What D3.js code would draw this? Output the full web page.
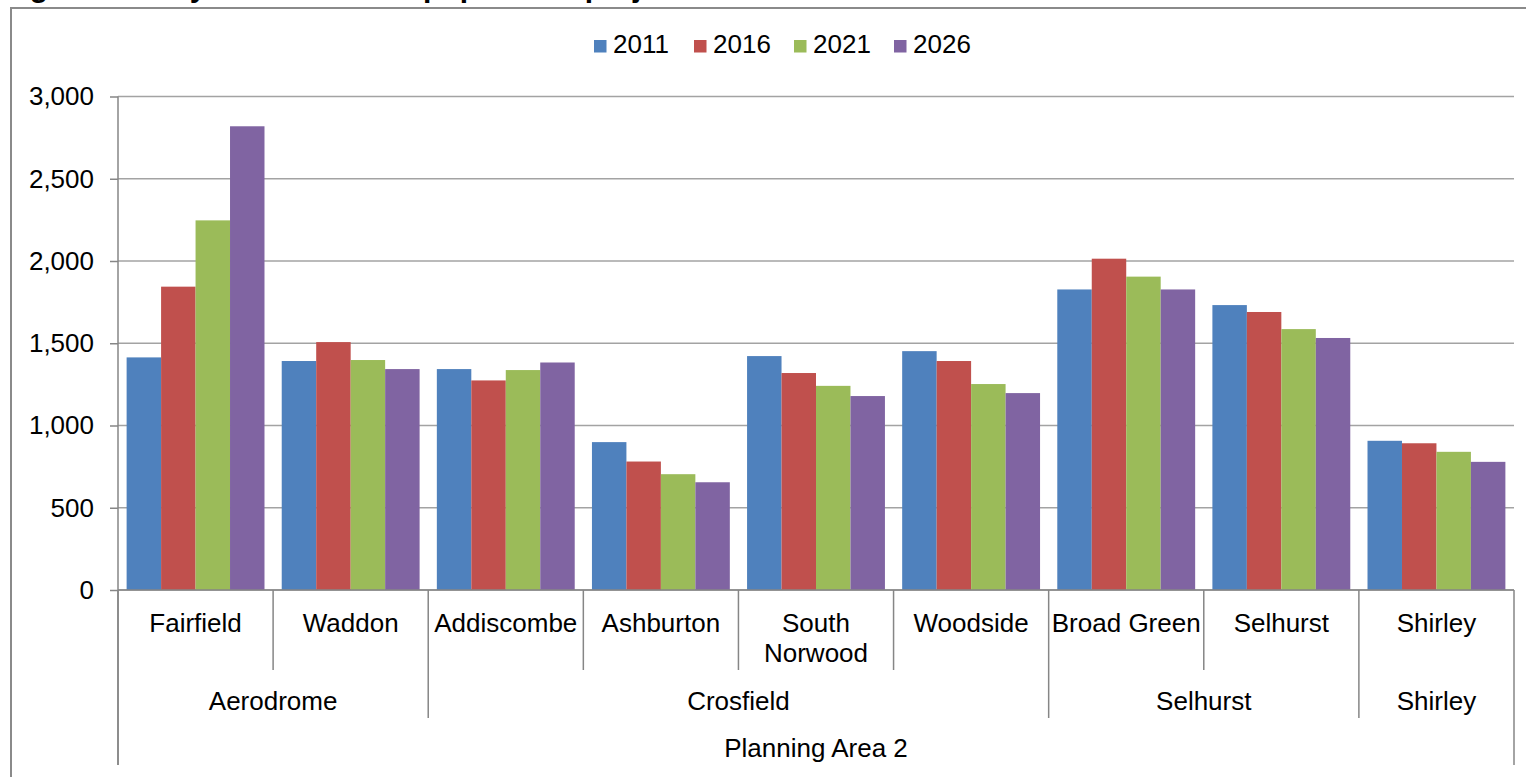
<!DOCTYPE html>
<html>
<head>
<meta charset="utf-8">
<script src="https://cdn.jsdelivr.net/npm/d3@7"></script>
<style>
  html, body { margin: 0; padding: 0; background: #fff; overflow: hidden; }
  svg { display: block; }
  text { font-family: "Liberation Sans", Arial, sans-serif; fill: #000; }
</style>
</head>
<body>
<svg id="chart" width="1526" height="777"></svg>
<script>
// ---- Data ----
const wards = ["Fairfield", "Waddon", "Addiscombe", "Ashburton", "South Norwood", "Woodside", "Broad Green", "Selhurst", "Shirley"];
const wardArea = ["Aerodrome", "Aerodrome", "Crosfield", "Crosfield", "Crosfield", "Crosfield", "Selhurst", "Selhurst", "Shirley"];
const topLevel = "Planning Area 2";
const years = ["2011", "2016", "2021", "2026"];
const v2011 = [1414, 1392, 1343, 899, 1422, 1452, 1827, 1732, 907];
const v2016 = [1844, 1507, 1274, 781, 1319, 1392, 2014, 1690, 892];
const v2021 = [2247, 1398, 1337, 704, 1241, 1252, 1905, 1586, 840];
const v2026 = [2819, 1343, 1383, 655, 1179, 1197, 1827, 1532, 779];
const yTicks = [0, 500, 1000, 1500, 2000, 2500, 3000];
const colors = ["#4F81BD", "#C0504D", "#9BBB59", "#8064A2"];
const titleText = "Figure 7: Croydon ward level population projections";

const seriesValues = [v2011, v2016, v2021, v2026];

// ---- Layout ----
const svg = d3.select("#chart");
const plotL = 118, plotR = 1514, plotT = 96.5, plotB = 590;
const fontSize = 26;

// frame
svg.append("rect").attr("x", 11).attr("y", 8).attr("width", 1540).attr("height", 800)
  .attr("fill", "none").attr("stroke", "#8a8a8a").attr("stroke-width", 2);

// cut-off title
svg.append("text").attr("x", 3).attr("y", -3)
  .attr("font-size", 30).attr("font-weight", "bold").text(titleText);

const x = d3.scaleBand().domain(wards).range([plotL, plotR]).paddingInner(0).paddingOuter(0);
const xs = d3.scaleBand().domain(years).range([0, x.bandwidth()]).paddingInner(0).paddingOuter(0.25);
const y = d3.scaleLinear().domain([0, 3000]).range([plotB, plotT]);

// gridlines
svg.append("g").selectAll("line").data(yTicks).join("line")
  .attr("x1", plotL).attr("x2", plotR)
  .attr("y1", d => y(d)).attr("y2", d => y(d))
  .attr("stroke", "#a3a3a3").attr("stroke-width", 1.5);

// y axis
const yAxis = d3.axisLeft(y).tickValues(yTicks).tickSize(8).tickPadding(16)
  .tickFormat(d3.format(","));
const gy = svg.append("g").attr("transform", `translate(${plotL},0)`).call(yAxis);
gy.select(".domain").remove();
gy.selectAll(".tick line").attr("stroke", "#868686").attr("stroke-width", 1.5);
gy.selectAll(".tick text").attr("font-size", fontSize).attr("font-family", "Liberation Sans, Arial, sans-serif").attr("fill", "#000");

// bars
const barData = [];
wards.forEach((w, i) => years.forEach((yr, j) => barData.push({ ward: w, year: yr, value: seriesValues[j][i], j })));
svg.append("g").selectAll("rect").data(barData).join("rect")
  .attr("x", d => x(d.ward) + xs(d.year))
  .attr("width", xs.bandwidth())
  .attr("y", d => y(d.value))
  .attr("height", d => y(0) - y(d.value))
  .attr("fill", d => colors[d.j]);

// axis lines
svg.append("line").attr("x1", plotL).attr("x2", plotL).attr("y1", plotT).attr("y2", 765)
  .attr("stroke", "#868686").attr("stroke-width", 1.5);
svg.append("line").attr("x1", plotL).attr("x2", plotR).attr("y1", plotB).attr("y2", plotB)
  .attr("stroke", "#868686").attr("stroke-width", 1.5);

// category separators
const boundaries = d3.range(wards.length + 1);
const sepY = i => {
  if (i === 0 || i === wards.length) return 765;
  if (wardArea[i] !== wardArea[i - 1]) return 718;
  return 670;
};
const bx = i => i === wards.length ? plotR : x(wards[i]);
svg.append("g").selectAll("line").data(boundaries).join("line")
  .attr("x1", bx).attr("x2", bx).attr("y1", plotB).attr("y2", sepY)
  .attr("stroke", "#868686").attr("stroke-width", 1.5);

// ward labels (wrap if too wide)
const wl = svg.append("g");
wards.forEach(w => {
  const cx = x(w) + x.bandwidth() / 2;
  const t = wl.append("text").attr("x", cx).attr("y", 632).attr("text-anchor", "middle")
    .attr("font-size", fontSize).text(w);
  if (t.node().getComputedTextLength() > x.bandwidth() - 4) {
    const words = w.split(" ");
    t.text(null);
    words.forEach((wd, k) => t.append("tspan").attr("x", cx).attr("y", 632 + k * 30).text(wd));
  }
});

// area labels
const areas = [];
wardArea.forEach((a, i) => {
  if (!areas.length || areas[areas.length - 1].name !== a) areas.push({ name: a, start: i, end: i + 1 });
  else areas[areas.length - 1].end = i + 1;
});
svg.append("g").selectAll("text").data(areas).join("text")
  .attr("x", d => (bx(d.start) + bx(d.end)) / 2).attr("y", 710)
  .attr("text-anchor", "middle").attr("font-size", fontSize).text(d => d.name);

svg.append("text").attr("x", (plotL + plotR) / 2).attr("y", 757)
  .attr("text-anchor", "middle").attr("font-size", fontSize).text(topLevel);

// legend
const lg = svg.append("g");
years.forEach((yr, j) => {
  const gx = 594 + j * 100;
  lg.append("rect").attr("x", gx).attr("y", 40).attr("width", 12.5).attr("height", 12.5).attr("fill", colors[j]);
  lg.append("text").attr("x", gx + 19).attr("y", 53).attr("font-size", fontSize).text(yr);
});
</script>
</body>
</html>
